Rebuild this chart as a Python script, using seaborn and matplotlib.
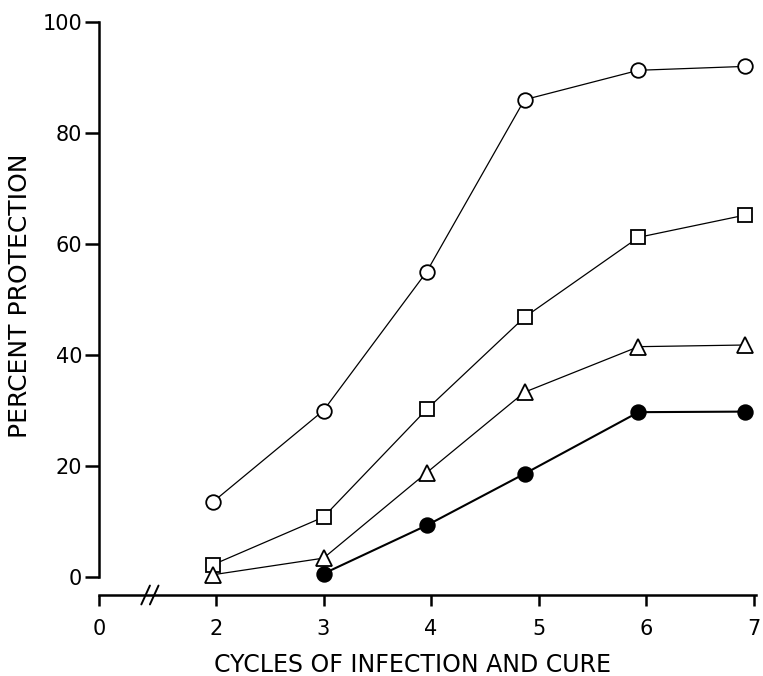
import matplotlib
matplotlib.use("Agg")
import matplotlib.pyplot as plt
import seaborn as sns
import pandas as pd

# ---- data ----
cycles = [1.97, 3.0, 3.96, 4.87, 5.93, 6.92]
circle_open = [13.5, 30, 55, 86, 91.3, 92]
square_open = [2.2, 10.8, 30.2, 46.8, 61.2, 65.2]
triangle_open = [0.4, 3.4, 18.8, 33.3, 41.5, 41.8]
cycles_filled = [3.0, 3.96, 4.87, 5.93, 6.92]
circle_filled = [0.6, 9.3, 18.6, 29.7, 29.8]

x_tick_pos = [2, 3, 4, 5, 6, 7]
x_tick_labels = ["2", "3", "4", "5", "6", "7"]
y_ticks = [0, 20, 40, 60, 80, 100]

sns.set_theme(style="white")
plt.rcParams["font.family"] = ["DejaVu Sans"]

W, H = 763, 676
fig = plt.figure(figsize=(W / 100, H / 100), dpi=100)
left, right, top, bottom = 99, 756, 22, 595
ax = fig.add_axes([left / W, 1 - bottom / H, (right - left) / W, (bottom - top) / H])

series = [
    (cycles, circle_open, "o", "white", 10.5, 0.9),
    (cycles, square_open, "s", "white", 10, 0.9),
    (cycles, triangle_open, "^", "white", 11, 0.9),
    (cycles_filled, circle_filled, "o", "black", 10.5, 1.5),
]
for xs, ys, m, fc, ms, lw in series:
    df = pd.DataFrame({"x": xs, "y": ys})
    sns.lineplot(data=df, x="x", y="y", ax=ax, color="black", linewidth=lw,
                 marker=m, markersize=ms, markerfacecolor=fc,
                 markeredgecolor="black", markeredgewidth=1.3, sort=False)

# axis geometry: 0 at px 99, 2 at px 216, 7 at px 753.5 (broken axis)
unit = 107.5
x_zero_pos = 2 - (216 - left) / unit
x_right = 2 + (right - 216) / unit
ax.set_xlim(x_zero_pos, x_right)
ypx = (577 - 22) / 100.0
ax.set_ylim(-(bottom - 577) / ypx, 100)

ax.set_xticks([x_zero_pos] + x_tick_pos)
ax.set_xticklabels(["0"] + x_tick_labels)
ax.set_yticks(y_ticks)
ax.set_yticklabels([str(v) for v in y_ticks])

for s in ["top", "right"]:
    ax.spines[s].set_visible(False)
for s in ["left", "bottom"]:
    ax.spines[s].set_color("black")
    ax.spines[s].set_linewidth(1.8)
ax.spines["left"].set_bounds(0, 100)

ax.tick_params(axis="both", direction="out", width=1.8, color="black",
               labelsize=15, labelcolor="black", bottom=True, left=True)
ax.tick_params(axis="x", length=8, pad=9)
ax.tick_params(axis="y", length=10, pad=2)
ax.grid(False)

# axis break marks "//"
bx = x_zero_pos + (151 - left) / unit
yb = ax.get_ylim()[0]
for dx in (-0.05, 0.03):
    ax.plot([bx + dx - 0.04, bx + dx + 0.04], [yb - 1.7, yb + 1.7], color="black",
            linewidth=1.4, clip_on=False)

ax.set_xlabel("")
ax.set_ylabel("")
fig.text(413 / W, 1 - 665 / H, "CYCLES OF INFECTION AND CURE", ha="center", va="center",
         fontsize=17, color="black")
fig.text(20 / W, 1 - 296 / H, "PERCENT PROTECTION", ha="center", va="center",
         rotation=90, fontsize=18, color="black")

fig.savefig("out.png", dpi=100, facecolor="white")
